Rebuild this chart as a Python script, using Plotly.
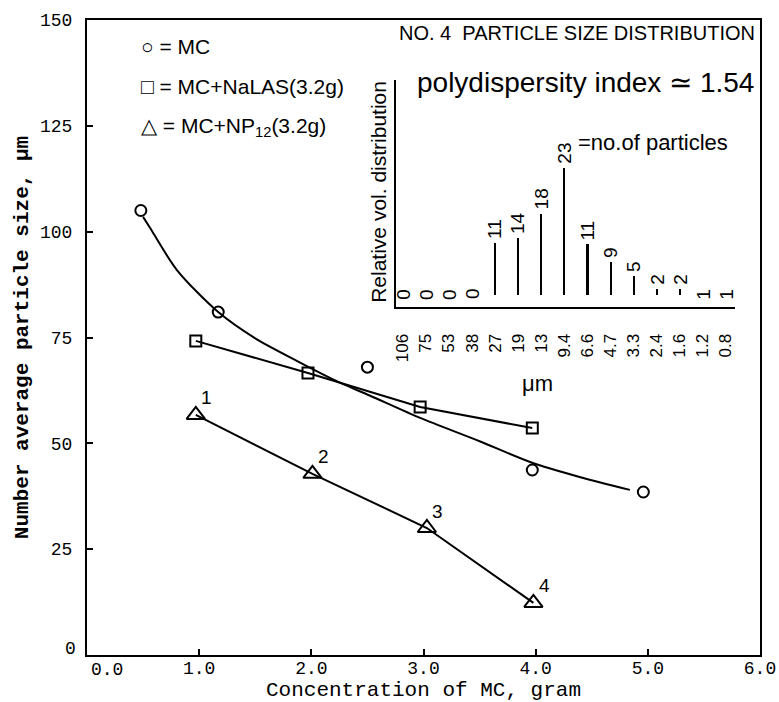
import plotly.graph_objects as go

# ---------------- main chart data ----------------
mc_x = [0.48, 1.17, 2.5, 3.97, 4.96]
mc_y = [105, 81, 68, 43.7, 38.5]
fit_x = [0.5, 0.56, 0.8, 1.17, 1.5, 1.87, 2.25, 2.52, 2.97, 3.5, 3.95, 4.4, 4.84]
fit_y = [103.5, 101, 91, 81, 74.8, 69.5, 64.4, 61.3, 56, 50.5, 45.6, 42, 39]
nalas_x = [0.97, 1.97, 2.97, 3.97]
nalas_y = [74.2, 66.6, 58.6, 53.6]
np12_x = [0.97, 2.01, 3.03, 3.98]
np12_y = [56.7, 42.8, 30.0, 12.3]
np12_labels = ["1", "2", "3", "4"]

x_ticks = [1, 2, 3, 4, 5, 6]
x_tick_text = ["1.0", "2.0", "3.0", "4.0", "5.0", "6.0"]
y_ticks = [25, 50, 75, 100, 125, 150]

# ---------------- inset (No. 4 particle size distribution) ----------------
size_labels = ["106", "75", "53", "38", "27", "19", "13", "9.4", "6.6", "4.7",
               "3.3", "2.4", "1.6", "1.2", "0.8"]
rel_vol = [0, 0, 0, 0, 0.41, 0.45, 0.64, 1.0, 0.40, 0.26, 0.15, 0.05, 0.05, 0, 0]
n_particles = [0, 0, 0, 0, 11, 14, 18, 23, 11, 9, 5, 2, 2, 1, 1]

BLACK = "#000000"
MONO = "Liberation Mono"
SANS = "Liberation Sans"

fig = go.Figure()

# MC fitted curve
fig.add_trace(go.Scatter(x=fit_x, y=fit_y, mode="lines",
                         line=dict(color=BLACK, width=2, shape="spline", smoothing=0.8),
                         showlegend=False, hoverinfo="skip"))
# MC points
fig.add_trace(go.Scatter(x=mc_x, y=mc_y, mode="markers", name="MC",
                         marker=dict(symbol="circle-open", size=11, color=BLACK, line=dict(width=2)),
                         showlegend=False))
# MC + NaLAS
fig.add_trace(go.Scatter(x=nalas_x, y=nalas_y, mode="lines+markers", name="MC+NaLAS(3.2g)",
                         line=dict(color=BLACK, width=2),
                         marker=dict(symbol="square-open", size=11, color=BLACK, line=dict(width=2)),
                         showlegend=False))
# MC + NP12
fig.add_trace(go.Scatter(x=np12_x, y=np12_y, mode="lines+markers", name="MC+NP12(3.2g)",
                         line=dict(color=BLACK, width=2),
                         marker=dict(symbol="triangle-up-open", size=16, color=BLACK, line=dict(width=2)),
                         showlegend=False))

# inset bars
idx = list(range(len(size_labels)))
fig.add_trace(go.Bar(x=idx, y=rel_vol, width=0.09, marker=dict(color=BLACK, line=dict(width=0)),
                     xaxis="x2", yaxis="y2", showlegend=False, hoverinfo="skip"))

annotations = []
# triangle point numbers
for x, y, t in zip(np12_x, np12_y, np12_labels):
    annotations.append(dict(x=x, y=y, text=t, showarrow=False, xshift=11, yshift=17,
                            font=dict(family=SANS, size=19, color=BLACK)))
# counts above inset bars
for i, (v, n) in enumerate(zip(rel_vol, n_particles)):
    if v > 0:
        annotations.append(dict(x=i, y=v, xref="x2", yref="y2", text=str(n), showarrow=False,
                                textangle=-90, xanchor="center", yanchor="bottom", yshift=2,
                                font=dict(family=SANS, size=19, color=BLACK)))
    else:
        annotations.append(dict(x=i, y=0, xref="x2", yref="y2", text=str(n), showarrow=False,
                                textangle=-90, xanchor="center", yanchor="middle", yshift=1,
                                font=dict(family=SANS, size=19, color=BLACK)))
annotations.append(dict(x=7.5, y=1.2, xref="x2", yref="y2", text="=no.of particles", showarrow=False,
                        xanchor="left", yanchor="middle", font=dict(family=SANS, size=22, color=BLACK)))

# legend-style texts
leg = [("○ = MC", 0.9575), ("□ = MC+NaLAS(3.2g)", 0.8945), ("△ = MC+NP<sub>12</sub>(3.2g)", 0.8315)]
for t, yp in leg:
    annotations.append(dict(x=0.077, y=yp, xref="paper", yref="paper", text=t, showarrow=False,
                            xanchor="left", yanchor="middle", font=dict(family=SANS, size=21, color=BLACK)))

annotations += [
    dict(x=0.46, y=0.9795, xref="paper", yref="paper", text="NO. 4  PARTICLE SIZE DISTRIBUTION",
         showarrow=False, xanchor="left", yanchor="middle", font=dict(family=SANS, size=20, color=BLACK)),
    dict(x=0.488, y=0.902, xref="paper", yref="paper", text="polydispersity index ≃ 1.54",
         showarrow=False, xanchor="left", yanchor="middle", font=dict(family=SANS, size=28, color=BLACK)),
    dict(x=0.432, y=0.729, xref="paper", yref="paper", text="Relative vol. distribution",
         showarrow=False, textangle=-90, xanchor="center", yanchor="middle",
         font=dict(family=SANS, size=21, color=BLACK)),
    dict(x=0.669, y=0.428, xref="paper", yref="paper", text="μm", xanchor="center", yanchor="middle",
         showarrow=False, font=dict(family=SANS, size=22, color=BLACK)),
    # axis origin labels
    dict(x=0.0, y=0, xref="x", yref="y", text="0.0", showarrow=False, xanchor="left", yanchor="top",
         xshift=2, yshift=-3, font=dict(family=MONO, size=18, color=BLACK)),
    dict(x=0.0, y=0, xref="x", yref="y", text="0", showarrow=False, xanchor="right", yanchor="middle",
         xshift=-9, yshift=6, font=dict(family=MONO, size=18, color=BLACK)),
]

fig.update_layout(
    template="none",
    width=779, height=702,
    margin=dict(l=87, r=19, t=20, b=47, autoexpand=False),
    paper_bgcolor="white", plot_bgcolor="white",
    font=dict(family=SANS, color=BLACK),
    showlegend=False,
    annotations=annotations,
    xaxis=dict(range=[0, 6], tickvals=x_ticks, ticktext=x_tick_text, ticks="inside", ticklen=6,
               tickwidth=1.5, tickcolor=BLACK, showline=True, mirror=True, linecolor=BLACK, linewidth=2,
               showgrid=False, zeroline=False, ticklabelstandoff=-5, automargin=False,
               tickfont=dict(family=MONO, size=18, color=BLACK),
               title=dict(text="Concentration of MC, gram", standoff=5,
                          font=dict(family=MONO, size=21, color=BLACK))),
    yaxis=dict(range=[0, 150], tickvals=y_ticks, ticks="inside", ticklen=6, tickwidth=2,
               tickcolor=BLACK, showline=True, mirror=True, linecolor=BLACK, linewidth=2,
               showgrid=False, zeroline=False, ticklabelstandoff=9, automargin=False,
               tickfont=dict(family=MONO, size=18, color=BLACK),
               title=dict(text="<b>Number average particle size, μm</b>", standoff=6,
                          font=dict(family=MONO, size=21, color=BLACK))),
    xaxis2=dict(domain=[0.459, 0.963], anchor="y2", range=[-0.3, 14.4], tickvals=idx,
                ticktext=size_labels, tickangle=-90, ticks="", ticklabelstandoff=18, automargin=False,
                showline=True, linecolor=BLACK, linewidth=2, showgrid=False, zeroline=False,
                tickfont=dict(family=SANS, size=17, color=BLACK)),
    yaxis2=dict(domain=[0.548, 0.906], anchor="x2", range=[-0.0945, 1.693], showticklabels=False,
                ticks="", showline=True, linecolor=BLACK, linewidth=2, showgrid=False, zeroline=False,
                automargin=False),
    bargap=0,
)

fig.write_html("out.html", config={"displayModeBar": False},
               post_script="document.body.style.margin='0';document.body.style.overflow='hidden';")
